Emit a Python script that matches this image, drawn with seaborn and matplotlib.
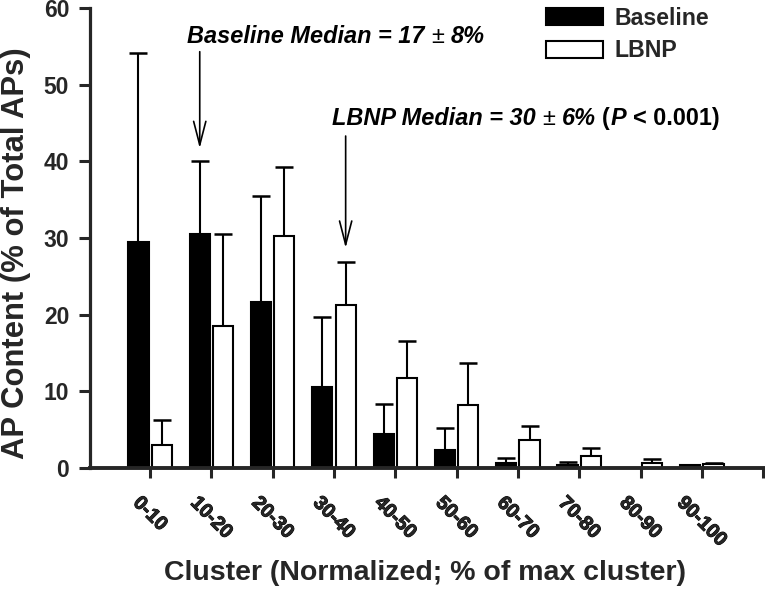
import numpy as np
import pandas as pd
import matplotlib
matplotlib.use("Agg")
import matplotlib.pyplot as plt
from matplotlib.patches import Patch
from matplotlib.font_manager import FontProperties
import matplotlib.patheffects as pe
import matplotlib.transforms as mtransforms
import seaborn as sns

clusters = ["0-10", "10-20", "20-30", "30-40", "40-50", "50-60", "60-70", "70-80", "80-90", "90-100"]
baseline = [29.5, 30.5, 21.6, 10.6, 4.5, 2.35, 0.6, 0.4, 0.0, 0.35]
baseline_err = [24.6, 9.5, 13.9, 9.1, 3.85, 2.9, 0.65, 0.4, 0.0, 0.0]
lbnp = [3.0, 18.5, 30.3, 21.3, 11.8, 8.2, 3.65, 1.57, 0.7, 0.5]
lbnp_err = [3.3, 12.0, 9.0, 5.6, 4.8, 5.5, 1.85, 1.0, 0.5, 0.1]
conditions = ["Baseline", "LBNP"]
yticks = [0, 10, 20, 30, 40, 50, 60]

sns.set_style("ticks")
plt.rcParams["font.family"] = ["Liberation Sans", "DejaVu Sans"]
plt.rcParams["font.weight"] = "bold"

df = pd.DataFrame({
    "Cluster": clusters * 2,
    "Condition": [conditions[0]] * len(clusters) + [conditions[1]] * len(clusters),
    "Value": baseline + lbnp,
})

fig = plt.figure(figsize=(7.65, 5.92), dpi=100)
ax = fig.add_axes([90 / 765, 1 - 468 / 592, 675 / 765, 460 / 592])

sns.barplot(data=df, x="Cluster", y="Value", hue="Condition", hue_order=conditions,
            order=clusters, palette={"Baseline": "black", "LBNP": "white"},
            edgecolor="black", linewidth=1.5, width=0.76, gap=0.13,
            errorbar=None, legend=False, ax=ax, zorder=2)

# error bars (upper only) positioned from the bars drawn by seaborn
for cont, vals, errs in zip(ax.containers, [baseline, lbnp], [baseline_err, lbnp_err]):
    xs = np.array([p.get_x() + p.get_width() / 2 for p in cont.patches])
    v = np.array(vals)
    e = np.array(errs)
    m = e > 0
    ax.errorbar(xs[m], v[m], yerr=[np.zeros(m.sum()), e[m]], fmt="none",
                ecolor="black", elinewidth=1.5, capsize=6.5, capthick=1.8, zorder=1)

base_centers = [p.get_x() + p.get_width() / 2 for p in ax.containers[0].patches]
lbnp_centers = [p.get_x() + p.get_width() / 2 for p in ax.containers[1].patches]

ax.set_ylim(0, 60)
ax.set_xlim(-0.98, 10.03)
ax.set_yticks(yticks)
ax.set_yticklabels([str(t) for t in yticks])
for lab in ax.get_yticklabels():
    lab.set_fontsize(16.5)
    lab.set_fontweight("bold")

xfp = FontProperties(family="Liberation Sans", weight="bold", size=14.2)
ax.set_xticks(list(range(len(clusters) + 1)))
ax.set_xticklabels(clusters + [""], rotation=-45, ha="center", va="top",
                   fontproperties=xfp)
shift = mtransforms.ScaledTranslation(5 / 100, 0, fig.dpi_scale_trans)
for lab in ax.get_xticklabels():
    lab.set_path_effects([pe.withStroke(linewidth=0.7, foreground="black")])
    lab.set_transform(lab.get_transform() + shift)
ax.tick_params(axis="y", length=8, width=2.2, pad=7, direction="out")
ax.tick_params(axis="x", length=7, width=2.2, pad=11, direction="out")

for s in ["top", "right"]:
    ax.spines[s].set_visible(False)
ax.spines["left"].set_linewidth(2.3)
ax.spines["bottom"].set_linewidth(2.8)

ax.set_ylabel("AP Content (% of Total APs)", fontsize=22.3, fontweight="bold")
ax.set_xlabel("Cluster (Normalized; % of max cluster)", fontsize=20.5, fontweight="bold")
ax.yaxis.set_label_coords(-0.087, 0.467)
ax.xaxis.set_label_coords(0.496, -0.2)

# arrows
arrow_kw = dict(arrowstyle="->,head_length=0.85,head_width=0.22", color="black",
                lw=1.2, mutation_scale=20, shrinkA=0, shrinkB=0)
ax.annotate("", xy=(base_centers[1], 41.7), xytext=(base_centers[1], 54.3),
            arrowprops=arrow_kw)
ax.annotate("", xy=(lbnp_centers[3], 28.7), xytext=(lbnp_centers[3], 43.3),
            arrowprops=arrow_kw)


def rich_text(x, y, pieces, size=16.9):
    prev = None
    for txt, style, weight, gap in pieces:
        kw = dict(fontsize=size, fontstyle=style, fontweight=weight,
                  ha="left", va="baseline", color="black")
        if prev is None:
            t = ax.text(x, y, txt, **kw)
        else:
            t = ax.annotate(txt, xy=(1, y), xycoords=(prev, "data"),
                            xytext=(gap, 0), textcoords="offset points", **kw)
        prev = t


sp = 4.7
rich_text(0.60, 55.4, [
    ("Baseline Median = 17", "italic", "bold", 0),
    ("\u00b1", "normal", "normal", sp),
    ("8%", "italic", "bold", sp),
])
rich_text(2.97, 44.7, [
    ("LBNP Median = 30", "italic", "bold", 0),
    ("\u00b1", "normal", "normal", sp),
    ("6%", "italic", "bold", sp),
    ("(", "normal", "bold", sp),
    ("P", "italic", "bold", 0.3),
    ("< 0.001)", "normal", "bold", sp),
])

handles = [Patch(facecolor="black", edgecolor="black", linewidth=1.5),
           Patch(facecolor="white", edgecolor="black", linewidth=1.5)]
fig.legend(handles, conditions, loc="upper left", bbox_to_anchor=(546 / 765, 1 - 7 / 592),
           frameon=False, borderpad=0, borderaxespad=0, handlelength=2.45,
           handleheight=0.75, handletextpad=0.5, labelspacing=0.4,
           prop={"size": 16.7, "weight": "bold"})

fig.savefig("out.png", dpi=100)
